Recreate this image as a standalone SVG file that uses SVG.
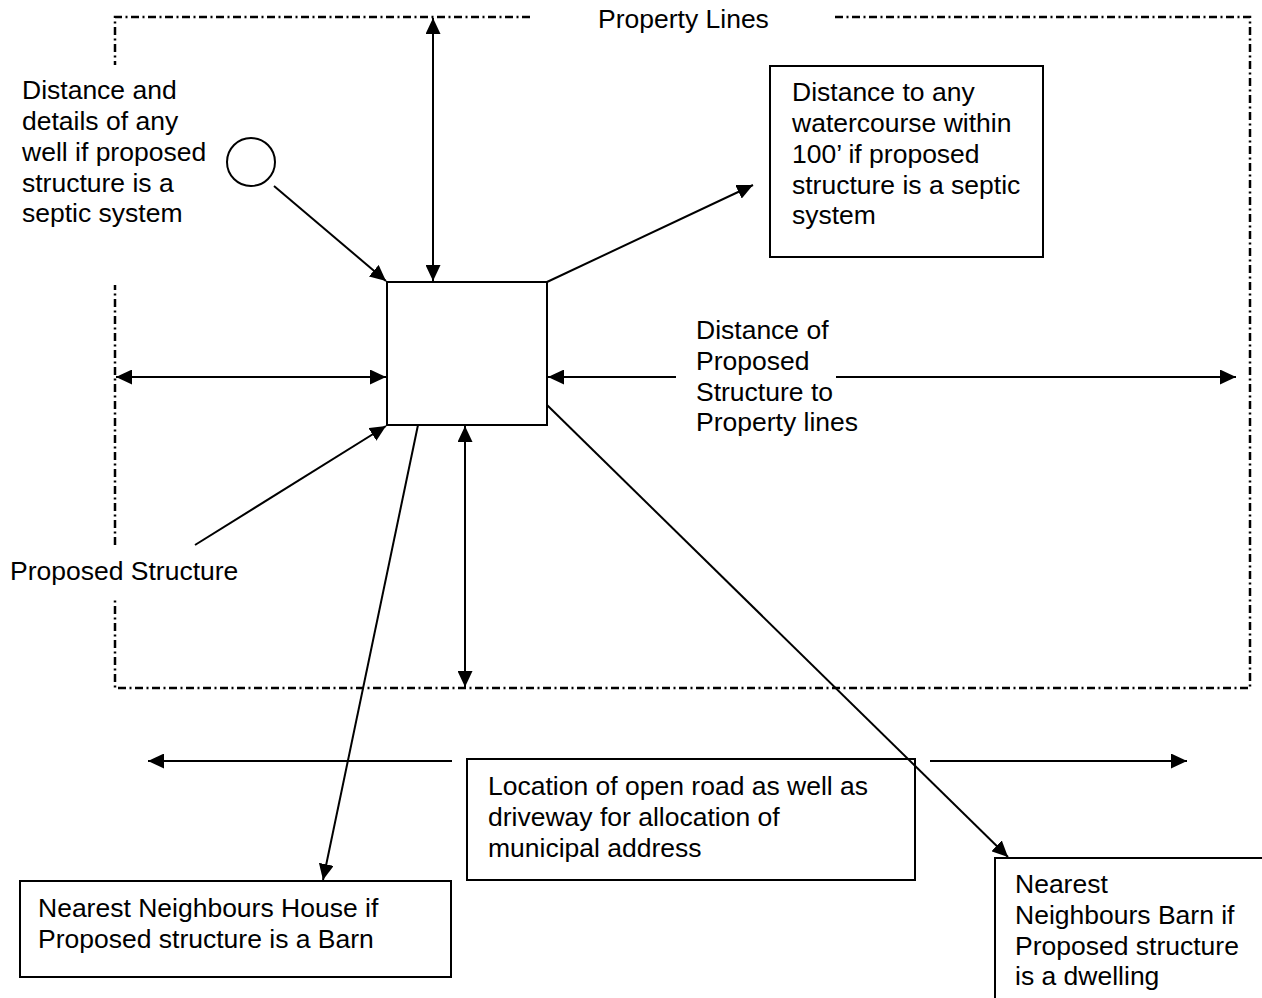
<svg xmlns="http://www.w3.org/2000/svg" width="1262" height="998" viewBox="0 0 1262 998">
<defs>
<marker id="ah" markerUnits="userSpaceOnUse" markerWidth="17" markerHeight="15" refX="16" refY="7.5" orient="auto-start-reverse">
<path d="M0,0 L16,7.5 L0,15 z" fill="#000"/>
</marker>
<style>
text{font-family:"Liberation Sans",Arial,sans-serif;font-size:26.5px;fill:#000}
.pl{fill:none;stroke:#000;stroke-width:2.5;stroke-dasharray:8,3.5,2,3.5}
.box{fill:#fff;stroke:#000;stroke-width:2}
.c{fill:none;stroke:#000;stroke-width:2}
.a{marker-end:url(#ah)}
.b{marker-start:url(#ah);marker-end:url(#ah)}
</style>
</defs>
<rect width="1262" height="998" fill="#fff"/>
<g id="property-lines">
<path class="pl" d="M530,17 L115,17 L115,65"/>
<path class="pl" d="M835,17 L1250,17 L1250,688 L115,688 L115,598"/>
<path class="pl" d="M115,545 L115,285"/>
<text x="598" y="28">Property Lines</text>
</g>
<g id="well">
<circle cx="251" cy="162" r="24" fill="#fff" stroke="#000" stroke-width="2"/>
<text x="22" y="99">Distance and</text>
<text x="22" y="130">details of any</text>
<text x="22" y="161">well if proposed</text>
<text x="22" y="192">structure is a</text>
<text x="22" y="222">septic system</text>
</g>
<g id="proposed-structure">
<rect class="box" x="387" y="282" width="160" height="143"/>
<text x="10" y="580">Proposed Structure</text>
</g>
<g id="watercourse">
<rect class="box" x="770" y="66" width="273" height="191"/>
<text x="792" y="101">Distance to any</text>
<text x="792" y="132">watercourse within</text>
<text x="792" y="163">100’ if proposed</text>
<text x="792" y="194">structure is a septic</text>
<text x="792" y="224">system</text>
</g>
<g id="distance-label">
<text x="696" y="339">Distance of</text>
<text x="696" y="370">Proposed</text>
<text x="696" y="401">Structure to</text>
<text x="696" y="431">Property lines</text>
</g>
<g id="road">
<rect class="box" x="467" y="759" width="448" height="121"/>
<text x="488" y="795">Location of open road as well as</text>
<text x="488" y="826">driveway for allocation of</text>
<text x="488" y="857">municipal address</text>
</g>
<g id="neighbour-house">
<rect class="box" x="20" y="881" width="431" height="96"/>
<text x="38" y="917">Nearest Neighbours House if</text>
<text x="38" y="948">Proposed structure is a Barn</text>
</g>
<g id="neighbour-barn">
<rect class="box" x="995" y="858" width="290" height="160"/>
<text x="1015" y="893">Nearest</text>
<text x="1015" y="924">Neighbours Barn if</text>
<text x="1015" y="955">Proposed structure</text>
<text x="1015" y="985">is a dwelling</text>
</g>
<g id="connectors">
<line class="c b" x1="433" y1="18" x2="433" y2="281"/>
<line class="c a" x1="274" y1="186" x2="386" y2="281"/>
<line class="c a" x1="547" y1="282" x2="753" y2="185"/>
<line class="c b" x1="116" y1="377" x2="386" y2="377"/>
<line class="c a" x1="676" y1="377" x2="548" y2="377"/>
<line class="c a" x1="836" y1="377" x2="1236" y2="377"/>
<line class="c a" x1="195" y1="545" x2="386" y2="426"/>
<line class="c b" x1="465" y1="426" x2="465" y2="687"/>
<line class="c a" x1="418" y1="425" x2="323" y2="880"/>
<line class="c a" x1="547" y1="405" x2="1008" y2="857"/>
<line class="c a" x1="452" y1="761" x2="148" y2="761"/>
<line class="c a" x1="930" y1="761" x2="1187" y2="761"/>
</g>
</svg>
